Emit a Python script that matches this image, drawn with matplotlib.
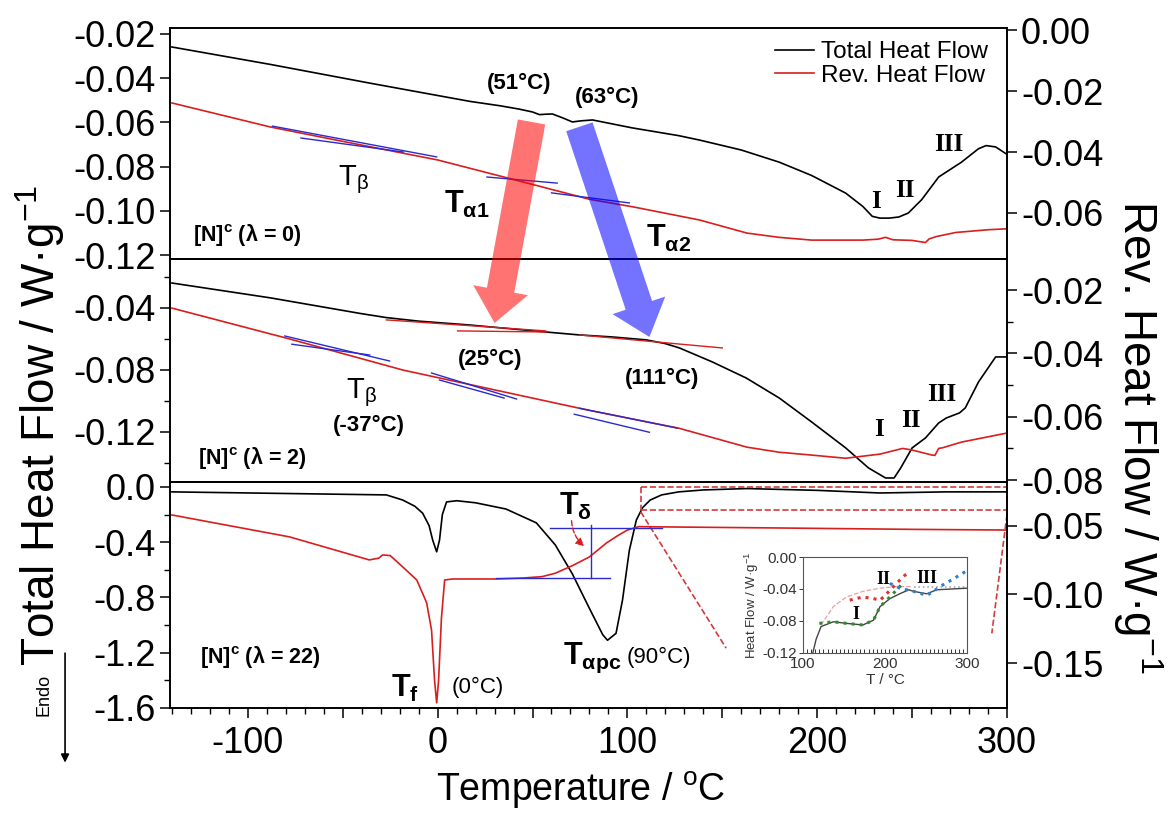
import matplotlib
matplotlib.use("Agg")
import matplotlib.pyplot as plt
from matplotlib.patches import ConnectionPatch, FancyArrowPatch
from matplotlib.ticker import FixedLocator, MultipleLocator, FuncFormatter, FormatStrFormatter

plt.rcParams["font.family"] = ["Liberation Sans", "DejaVu Sans"]
plt.rcParams["mathtext.fontset"] = "custom"
plt.rcParams["mathtext.rm"] = "Liberation Sans"
plt.rcParams["mathtext.bf"] = "Liberation Sans:bold"
plt.rcParams["mathtext.it"] = "Liberation Sans:italic"
plt.rcParams["axes.unicode_minus"] = False

# ---------------- [N]c, lambda = 0 ----------------
t_top_total = [-140, -88, -36, 17, 33, 43, 50, 53.7, 57, 60.5, 66, 71, 75.6, 81.6, 102.6, 127, 138,
               160, 180, 197, 215, 224, 229, 233, 238, 243, 248, 255, 264, 276, 285, 289, 294, 299.5]
hf_top_total = [-0.0259, -0.0338, -0.0422, -0.0505, -0.0525, -0.054, -0.0553, -0.0565, -0.0563, -0.0562,
                -0.058, -0.0598, -0.0593, -0.0589, -0.0625, -0.066, -0.068, -0.0725, -0.078, -0.084,
                -0.092, -0.098, -0.1025, -0.1033, -0.1033, -0.1028, -0.101, -0.095, -0.0847, -0.078,
                -0.0719, -0.0705, -0.0711, -0.0742]
t_top_rev = [-140, -88, -50, 0, 43, 80, 103, 138, 163, 180, 197, 224, 232, 236, 240, 250, 257, 259, 263,
             273, 290, 299.5]
hf_top_rev = [-0.0239, -0.0318, -0.0365, -0.0426, -0.0495, -0.0555, -0.058, -0.0623, -0.0666, -0.068,
              -0.0689, -0.0689, -0.0686, -0.068, -0.0688, -0.069, -0.0697, -0.0685, -0.0677, -0.0664,
              -0.0655, -0.0652]
# tangent construction lines on the reversing signal (T0, v0, T1, v1)
tan_top_blue = [(-87, -0.0315, -0.5, -0.0416), (-72, -0.0354, -18, -0.0400),
                (26, -0.0482, 63, -0.0502), (60, -0.0534, 101, -0.0567)]

# ---------------- [N]c, lambda = 2 ----------------
t_mid_total = [-140, -88, -40, -27, -10, 17, 57, 74.7, 92, 110, 120, 127.4, 144.7, 162.6, 180, 197, 215,
               227, 236, 240.5, 244, 250, 257, 264, 268, 275, 278, 285, 294, 299.5]
hf_mid_total = [-0.0239, -0.0335, -0.0437, -0.0462, -0.0485, -0.051, -0.0555, -0.0574, -0.0587, -0.0606,
                -0.063, -0.0658, -0.0748, -0.0852, -0.0981, -0.1135, -0.1303, -0.1432, -0.1497,
                -0.1497, -0.1432, -0.1303, -0.1239, -0.1142, -0.111, -0.1077, -0.1045, -0.0877,
                -0.0716, -0.0716]
t_mid_rev = [-140, -79.5, -18, 43, 80, 127, 163, 180, 197, 215, 233, 245, 250, 260.5, 262, 264, 266,
             276, 299.5]
hf_mid_rev = [-0.0257, -0.0352, -0.0453, -0.0532, -0.058, -0.0636, -0.0696, -0.0712, -0.0721, -0.0731,
              -0.0718, -0.070, -0.0705, -0.0721, -0.0722, -0.070, -0.0698, -0.068, -0.0652]
tan_mid_blue = [(-80.5, -0.0345, -25.3, -0.0424), (-76.8, -0.0371, -35.8, -0.0405),
                (-3.2, -0.0462, 41.6, -0.0544), (1, -0.0484, 35, -0.0541),
                (74.7, -0.0573, 126.3, -0.0636), (72, -0.0592, 111.6, -0.0649)]
tan_mid_red = [(-27, -0.0477, 57, -0.0548), (10.5, -0.0548, 57.4, -0.0555), (74.7, -0.0574, 150, -0.0658)]

# ---------------- [N]c, lambda = 22 ----------------
t_bot_total = [-140, -27, -18.4, -12, -7.9, -4.5, -2.6, -0.5, 1, 2.5, 4.7, 10, 20, 36, 52, 62, 71, 80,
               87, 89.5, 94, 97.4, 101, 104.7, 108, 112, 118, 127, 140, 163, 200, 233, 268, 299.5]
hf_bot_total = [-0.036, -0.058, -0.095, -0.14, -0.19, -0.28, -0.385, -0.47, -0.385, -0.2, -0.109, -0.10,
                -0.115, -0.16, -0.26, -0.42, -0.63, -0.88, -1.07, -1.11, -1.06, -0.82, -0.46, -0.24,
                -0.15, -0.095, -0.058, -0.036, -0.022, -0.012, -0.025, -0.044, -0.036, -0.036]
t_bot_rev = [-140, -78, -36, -31, -29, -25, -18, -11, -5.8, -3.2, -1.6, -0.5, 0.5, 2, 3.7, 8, 31, 45, 55,
             62, 71, 80, 89, 95, 100, 106, 118, 180, 250, 299.5]
hf_bot_rev = [-0.042, -0.058, -0.0748, -0.0735, -0.0712, -0.0716, -0.0804, -0.0894, -0.106, -0.126,
              -0.163, -0.179, -0.163, -0.1175, -0.0894, -0.0887, -0.0887, -0.088, -0.087, -0.0845,
              -0.079, -0.0726, -0.0624, -0.057, -0.053, -0.0505, -0.0507, -0.0515, -0.0525, -0.053]
delta_upper = (59, 118, -0.0515)
delta_lower = (31, 91, -0.088)
delta_step_T = 81

# ---------------- inset: deconvolution of peaks I-III ----------------
t_in_total = [112, 116, 122, 137, 153, 173, 186, 194, 206, 218, 229, 235, 251, 263, 300]
hf_in_total = [-0.12, -0.103, -0.087, -0.081, -0.083, -0.085, -0.079, -0.062, -0.052, -0.046, -0.041,
               -0.043, -0.046, -0.041, -0.039]
t_in_I = [120, 137, 153, 173, 186, 194, 206, 218, 224]
hf_in_I = [-0.083, -0.081, -0.083, -0.085, -0.079, -0.062, -0.050, -0.037, -0.031]
t_in_II = [157, 173, 186, 194, 202, 214, 224, 230]
hf_in_II = [-0.054, -0.050, -0.052, -0.054, -0.046, -0.033, -0.023, -0.019]
t_in_III = [206, 218, 235, 251, 259, 267, 284, 300]
hf_in_III = [-0.033, -0.039, -0.043, -0.048, -0.043, -0.037, -0.027, -0.017]
t_in_base = [122, 137, 153, 173, 194, 214, 232]
hf_in_base = [-0.085, -0.062, -0.050, -0.043, -0.039, -0.037, -0.037]
t_in_flat = [235, 300]
hf_in_flat = [-0.037, -0.037]

XLIM = (-141, 300)
BLUE = "#2a2ad0"
RED = "#d81e1e"

fig = plt.figure(figsize=(11.7, 8.16), dpi=100)
x0, w = 0.1453, 0.7154
ax_top = fig.add_axes([x0, 0.6826, w, 0.2831])
ax_mid = fig.add_axes([x0, 0.4093, w, 0.2733])
ax_bot = fig.add_axes([x0, 0.1324, w, 0.2770])
ax_top_r = ax_top.twinx()
ax_mid_r = ax_mid.twinx()
ax_bot_r = ax_bot.twinx()

lw = 1.2
l_tot, = ax_top.plot(t_top_total, hf_top_total, color="black", lw=lw)
l_rev, = ax_top_r.plot(t_top_rev, hf_top_rev, color=RED, lw=lw)
for a, b, c, d in tan_top_blue:
    ax_top_r.plot([a, c], [b, d], color=BLUE, lw=1.0)

ax_mid.plot(t_mid_total, hf_mid_total, color="black", lw=lw)
for a, b, c, d in tan_mid_red:
    ax_mid.plot([a, c], [b, d], color=RED, lw=1.0)
ax_mid_r.plot(t_mid_rev, hf_mid_rev, color=RED, lw=lw)
for a, b, c, d in tan_mid_blue:
    ax_mid_r.plot([a, c], [b, d], color=BLUE, lw=1.0)

ax_bot.plot(t_bot_total, hf_bot_total, color="black", lw=lw)
ax_bot_r.plot(t_bot_rev, hf_bot_rev, color=RED, lw=lw)
ax_bot_r.plot(delta_upper[:2], [delta_upper[2]] * 2, color=BLUE, lw=1.0)
ax_bot_r.plot(delta_lower[:2], [delta_lower[2]] * 2, color=BLUE, lw=1.0)
ax_bot_r.plot([delta_step_T] * 2, [delta_upper[2] + 0.002, delta_lower[2]], color=BLUE, lw=1.0)
ax_bot_r.annotate("", xy=(78.4, -0.066), xytext=(70.5, -0.0442),
                  arrowprops=dict(arrowstyle="-|>", color=RED, ls="--", lw=1.0,
                                  connectionstyle="arc3,rad=0.25", mutation_scale=12))

# zoom box towards the inset
box_kw = dict(color="#d43a3a", ls="--", lw=1.2, clip_on=False)
ax_bot.plot([107, 300], [0.0, 0.0], **box_kw)
ax_bot.plot([107, 300], [-0.167, -0.167], **box_kw)
ax_bot.plot([107, 107], [0.0, -0.167], **box_kw)
ax_bot.plot([300, 300], [0.0, -0.167], **box_kw)
ax_bot.plot([107, 152], [-0.18, -1.167], **box_kw)
ax_bot.plot([300, 292], [-0.2, -1.06], **box_kw)

# axis ranges
for a in (ax_top, ax_mid, ax_bot):
    a.set_xlim(*XLIM)
ax_top.set_ylim(-0.1218, -0.0173)
ax_top_r.set_ylim(-0.0751, 0.0007)
ax_mid.set_ylim(-0.1523, -0.0084)
ax_mid_r.set_ylim(-0.0806, -0.0102)
ax_bot.set_ylim(-1.6, 0.036)
ax_bot_r.set_ylim(-0.1828, -0.0179)

# ticks
ax_top.yaxis.set_major_locator(FixedLocator([-0.02, -0.04, -0.06, -0.08, -0.10, -0.12]))
ax_mid.yaxis.set_major_locator(FixedLocator([-0.04, -0.08, -0.12]))
ax_mid.yaxis.set_minor_locator(FixedLocator([-0.02, -0.06, -0.10, -0.14]))
ax_bot.yaxis.set_major_locator(FixedLocator([0.0, -0.4, -0.8, -1.2, -1.6]))
ax_bot.yaxis.set_minor_locator(FixedLocator([-0.2, -0.6, -1.0, -1.4]))
ax_top_r.yaxis.set_major_locator(FixedLocator([0.0, -0.02, -0.04, -0.06]))
ax_mid_r.yaxis.set_major_locator(FixedLocator([-0.02, -0.04, -0.06, -0.08]))
ax_mid_r.yaxis.set_minor_locator(FixedLocator([-0.03, -0.05, -0.07]))
ax_bot_r.yaxis.set_major_locator(FixedLocator([-0.05, -0.10, -0.15]))
for a in (ax_top, ax_mid, ax_top_r, ax_mid_r, ax_bot_r):
    a.yaxis.set_major_formatter(FormatStrFormatter("%.2f"))
ax_bot.yaxis.set_major_formatter(FormatStrFormatter("%.1f"))

for a in (ax_top, ax_mid, ax_bot, ax_top_r, ax_mid_r, ax_bot_r):
    a.tick_params(axis="y", which="major", direction="out", length=7, width=1.1, labelsize=26, pad=3)
    a.tick_params(axis="y", which="minor", direction="out", length=4.5, width=1.0)
    a.tick_params(axis="x", which="both", bottom=False, top=False, labelbottom=False)
    for s in a.spines.values():
        s.set_linewidth(1.2)

ax_bot.xaxis.set_major_locator(MultipleLocator(50))
ax_bot.xaxis.set_minor_locator(MultipleLocator(10))
ax_bot.xaxis.set_major_formatter(FuncFormatter(lambda v, _: str(int(round(v))) if round(v) % 100 == 0 else ""))
ax_bot.tick_params(axis="x", which="major", bottom=True, labelbottom=True, direction="out",
                   length=7, width=1.1, labelsize=26, pad=6)
ax_bot.tick_params(axis="x", which="minor", bottom=True, direction="out", length=4.5, width=1.0)

# legend
ax_top_r.legend([l_tot, l_rev], ["Total Heat Flow", "Rev. Heat Flow"], loc="upper left",
                bbox_to_anchor=(0.705, 1.005), frameon=False, fontsize=17.5, handlelength=1.6,
                handletextpad=0.3, borderpad=0.1, labelspacing=0.05)

# panel annotations
bold = dict(fontweight="bold", ha="center", va="center")
ax_top.text(43.2, -0.0422, "(51°C)", fontsize=16, **bold)
ax_top.text(89.5, -0.0485, "(63°C)", fontsize=16, **bold)
ax_top.text(-44.5, -0.0858, r"$\mathrm{T_{β}}$", fontsize=21, ha="center", va="center")
ax_top.text(15.5, -0.0969, r"$\mathbf{T_{α1}}$", fontsize=22, ha="center", va="center")
ax_top.text(121.6, -0.1123, r"$\mathbf{T_{α2}}$", fontsize=22, ha="center", va="center")
ax_top.text(-129, -0.111, r"[N]$^{\mathbf{c}}$ (λ = 0)", fontsize=15.5, fontweight="bold",
            ha="left", va="center")

ax_mid.text(27.9, -0.0729, "(25°C)", fontsize=16, **bold)
ax_mid.text(118.4, -0.0852, "(111°C)", fontsize=16, **bold)
ax_mid.text(-40, -0.0948, r"$\mathrm{T_{β}}$", fontsize=21, ha="center", va="center")
ax_mid.text(-36, -0.1155, "(-37°C)", fontsize=16, **bold)
ax_mid.text(-126.3, -0.1365, r"[N]$^{\mathbf{c}}$ (λ = 2)", fontsize=15.5, fontweight="bold",
            ha="left", va="center")

ax_bot.text(-17.4, -1.46, r"$\mathbf{T_{f}}$", fontsize=22, ha="center", va="center")
ax_bot.text(21, -1.448, "(0°C)", fontsize=16, ha="center", va="center")
ax_bot.text(81.6, -1.238, r"$\mathbf{T_{αpc}}$", fontsize=22, ha="center", va="center")
ax_bot.text(116.8, -1.231, "(90°C)", fontsize=16, ha="center", va="center")
ax_bot.text(72.6, -0.14, r"$\mathbf{T_{δ}}$", fontsize=22, ha="center", va="center")
ax_bot.text(-125, -1.231, r"[N]$^{\mathbf{c}}$ (λ = 22)", fontsize=15.5, fontweight="bold",
            ha="left", va="center")

roman = dict(fontsize=18, fontweight="bold", family="Liberation Serif", ha="center", va="center")
ax_top.text(231, -0.0956, "I", **roman)
ax_top.text(246.3, -0.091, "II", **roman)
ax_top.text(269.5, -0.0698, "III", **roman)
ax_mid.text(232.6, -0.1187, "I", **roman)
ax_mid.text(249.5, -0.1123, "II", **roman)
ax_mid.text(265.8, -0.0961, "III", **roman)

# shift arrows for the alpha relaxations between lambda = 0 and lambda = 2
for (ta, va, tb, vb), col in (((49.5, -0.0598, 30, -0.0497), (1, 0, 0, 0.55)),
                              ((74.7, -0.062, 111.6, -0.0587), (0, 0, 1, 0.55))):
    arr = ConnectionPatch(xyA=(ta, va), coordsA=ax_top.transData, xyB=(tb, vb), coordsB=ax_mid.transData,
                          arrowstyle="simple,head_length=2.4,head_width=4.0,tail_width=2.0",
                          mutation_scale=10, fc=col, ec="none", shrinkA=0, shrinkB=0)
    fig.add_artist(arr)

# axis titles
fig.text(0.034, 0.479, "Total Heat Flow / W·g$^{-1}$", rotation=90, fontsize=33, ha="center", va="center")
fig.text(0.973, 0.465, "Rev. Heat Flow / W·g$^{-1}$", rotation=270, fontsize=33, ha="center", va="center")
fig.text(0.496, 0.032, r"Temperature / $^{\rm o}$C", fontsize=27, ha="center", va="center")

# endotherm direction
fig.text(0.038, 0.148, "Endo", rotation=90, fontsize=13, ha="center", va="center")
fig.add_artist(FancyArrowPatch((0.0556, 0.203), (0.0556, 0.062), transform=fig.transFigure,
                               arrowstyle="-|>", mutation_scale=12, color="black", lw=1.2))

# inset
ax_in = fig.add_axes([0.6863, 0.1998, 0.1402, 0.1176])
ax_in.plot(t_in_base, hf_in_base, color="#eaa0a0", ls="--", lw=0.9)
ax_in.plot(t_in_flat, hf_in_flat, color="#aaaaaa", ls=":", lw=1.2)
ax_in.plot(t_in_total, hf_in_total, color="#444444", lw=1.0)
ax_in.plot(t_in_I, hf_in_I, color="#2e8b2e", ls=":", lw=2.2)
ax_in.plot(t_in_II, hf_in_II, color="#e03030", ls=":", lw=2.2)
ax_in.plot(t_in_III, hf_in_III, color="#2f7fd0", ls=":", lw=2.2)
ax_in.set_xlim(100, 300)
ax_in.set_ylim(-0.12, 0.0)
ax_in.xaxis.set_major_locator(MultipleLocator(100))
ax_in.xaxis.set_minor_locator(MultipleLocator(5))
ax_in.yaxis.set_major_locator(MultipleLocator(0.04))
ax_in.yaxis.set_major_formatter(FormatStrFormatter("%.2f"))
ax_in.tick_params(axis="x", which="both", direction="in", length=3, width=0.7, labelsize=11,
                  colors="#333333", pad=3)
ax_in.tick_params(axis="y", which="major", direction="out", length=3, width=0.7, labelsize=11,
                  colors="#333333", pad=1)
for s in ax_in.spines.values():
    s.set_color("#555555")
    s.set_linewidth(0.8)
ax_in.set_xlabel("T / °C", fontsize=11, color="#333333", labelpad=1)
ax_in.set_ylabel("Heat Flow / W·g$^{-1}$", fontsize=9.5, color="#333333", labelpad=1)
rom_in = dict(fontsize=13, fontweight="bold", family="Liberation Serif", ha="center", va="center")
ax_in.text(165, -0.072, "I", **rom_in)
ax_in.text(198, -0.028, "II", **rom_in)
ax_in.text(251, -0.027, "III", **rom_in)

fig.savefig("out.png", dpi=100)
